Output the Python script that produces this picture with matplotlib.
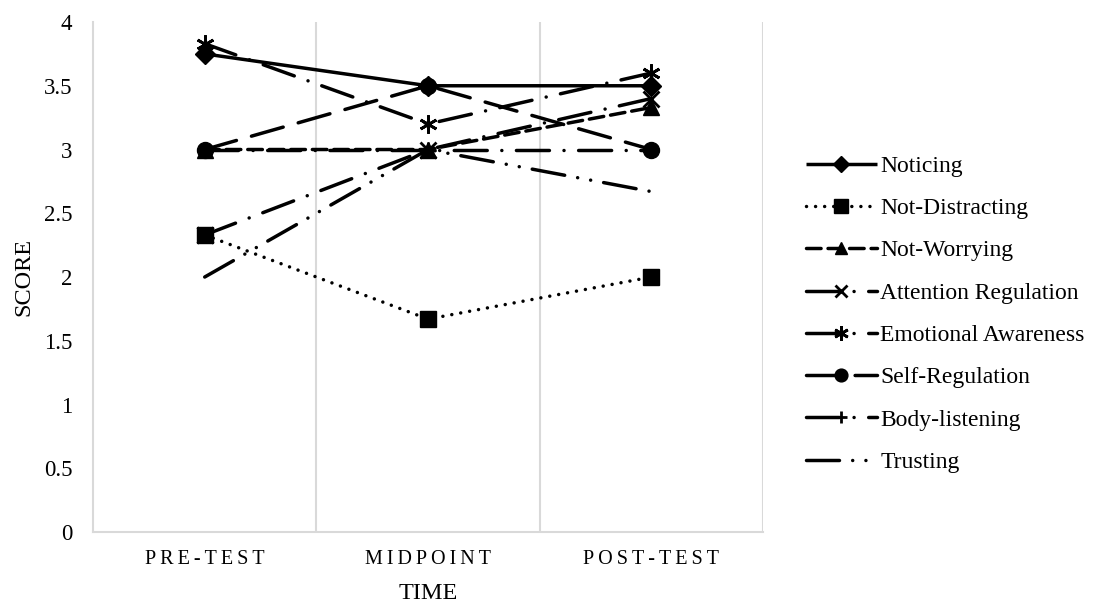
import matplotlib
matplotlib.use("Agg")
import matplotlib.pyplot as plt

# data
times = ["PRE-TEST", "MIDPOINT", "POST-TEST"]
noticing = [3.75, 3.5, 3.5]
not_distracting = [2.33, 1.67, 2.0]
not_worrying = [3.0, 3.0, 3.33]
attention_regulation = [2.33, 3.0, 3.4]
emotional_awareness = [3.83, 3.2, 3.6]
self_regulation = [3.0, 3.5, 3.0]
body_listening = [3.0, 3.0, 3.0]
trusting = [2.0, 3.0, 2.67]

series = [
    ("Noticing", noticing, "D", "-", 10),
    ("Not-Distracting", not_distracting, "s", (0, (0.01, 2.6)), 12),
    ("Not-Worrying", not_worrying, "^", (0, (4.2, 2.0)), 11),
    ("Attention Regulation", attention_regulation, "x", (0, (9.5, 4.2, 0.01, 4.2)), 11),
    ("Emotional Awareness", emotional_awareness, (6, 2, 0), (0, (9.5, 4.2, 0.01, 4.2)), 13),
    ("Self-Regulation", self_regulation, "o", (0, (9.5, 4.5)), 11.5),
    ("Body-listening", body_listening, "+", (0, (9.5, 4.2, 0.01, 4.2)), 11),
    ("Trusting", trusting, "", (0, (9.5, 3.8, 0.01, 3.8, 0.01, 3.8)), 11),
]

plt.rcParams["font.family"] = ["Liberation Serif", "DejaVu Serif"]

fig = plt.figure(figsize=(10.96, 6.03), dpi=100)
ax = fig.add_axes([0.0849, 0.1177, 0.6113, 0.8458])

x = list(range(len(times)))
for name, vals, marker, ls, ms in series:
    ax.plot(x, vals, color="black", linewidth=2.5, linestyle=ls, marker=marker,
            markersize=ms, markeredgewidth=2 if marker in ("x", "+", (6, 2, 0)) else 1,
            label=name, dash_capstyle="round", solid_capstyle="butt")

grey = "#d9d9d9"
ax.set_xlim(-0.5, 2.5)
ax.set_ylim(0, 4)
ax.set_yticks([0, 0.5, 1, 1.5, 2, 2.5, 3, 3.5, 4])
ax.set_yticklabels(["0", "0.5", "1", "1.5", "2", "2.5", "3", "3.5", "4"])
ax.set_xticks(x)
ax.set_xticklabels(["\u2009".join(t) for t in times])
for b in [0.5, 1.5, 2.5]:
    ax.axvline(b, color=grey, linewidth=1.5, zorder=0)
for s in ["top", "right"]:
    ax.spines[s].set_visible(False)
for s in ["left", "bottom"]:
    ax.spines[s].set_color(grey)
    ax.spines[s].set_linewidth(1.5)
ax.tick_params(axis="y", length=0, labelsize=16.5, pad=15)
ax.tick_params(axis="x", length=0, labelsize=14.5, pad=13)

ax.set_xlabel("TIME", fontsize=17.5, labelpad=10)
ax.set_ylabel("SCORE", fontsize=17.5, labelpad=7)

fig.legend(loc="center left", bbox_to_anchor=(0.716, 0.479), frameon=False,
           fontsize=17, handlelength=3.0, handletextpad=0.15, labelspacing=0.88,
           markerscale=0.8)

fig.savefig("out.png", dpi=100)
